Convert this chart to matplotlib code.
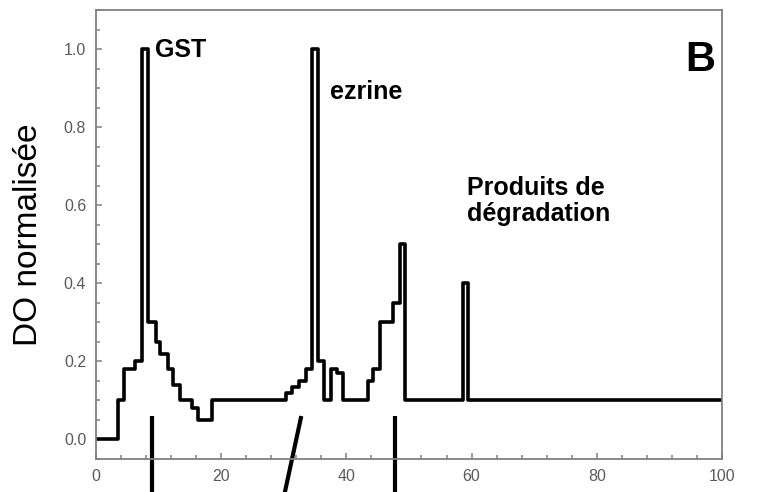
import matplotlib
matplotlib.use('Agg')
import matplotlib.pyplot as plt
from matplotlib.ticker import MultipleLocator

plt.rcParams['font.family'] = ['Liberation Sans', 'DejaVu Sans']

# profil d'élution : début de chaque palier (fraction) et DO normalisée du palier
fractions = [0, 3.5, 4.4, 6.2, 7.4, 8.3, 9.6, 10.2, 11.5, 12.3, 13.4, 15.3, 16.3, 18.6,
             30.4, 31.3, 32.5, 33.6, 34.5, 35.4, 36.5, 37.6, 38.5, 39.5,
             43.4, 44.3, 45.4, 47.5, 48.5, 49.3, 58.7, 59.4, 100]
do_norm = [0.0, 0.1, 0.18, 0.2, 1.0, 0.3, 0.25, 0.22, 0.18, 0.14, 0.1, 0.08, 0.05, 0.1,
           0.12, 0.135, 0.15, 0.18, 1.0, 0.2, 0.1, 0.18, 0.17, 0.1,
           0.15, 0.18, 0.3, 0.35, 0.5, 0.1, 0.4, 0.1, 0.1]

# repères sous l'axe des abscisses
marks_top = [(9, 9), (32.8, 29.3), (47.8, 47.8)]

fig = plt.figure(figsize=(7.58, 4.92), dpi=100)
ax = fig.add_axes([0.1266, 0.0671, 0.8259, 0.9126])

ax.step(fractions, do_norm, where='post', color='black', lw=2.6,
        solid_joinstyle='round')

for x_top, x_bottom in marks_top:
    ax.plot([x_top, x_bottom], [0.06, -0.2], color='black', lw=3, clip_on=False,
            solid_capstyle='butt')

ax.set_xlim(0, 100)
ax.set_ylim(-0.05, 1.1)
ax.xaxis.set_major_locator(MultipleLocator(20))
ax.xaxis.set_minor_locator(MultipleLocator(4))
ax.yaxis.set_major_locator(MultipleLocator(0.2))
ax.yaxis.set_minor_locator(MultipleLocator(0.05))
ax.yaxis.set_major_formatter(matplotlib.ticker.FormatStrFormatter('%.1f'))

ax.tick_params(which='both', direction='in', color='#808080', width=1.1,
               top=False, right=False, labelcolor='#5a5a5a', labelsize=11.5)
ax.tick_params(which='major', length=4)
ax.tick_params(which='minor', length=3)
ax.tick_params(axis='x', pad=7)
ax.tick_params(axis='y', pad=7)
for s in ax.spines.values():
    s.set_color('#808080')
    s.set_linewidth(1.3)

ax.set_ylabel('DO normalisée', fontsize=24, labelpad=14)

ax.text(9.4, 0.98, 'GST', fontsize=18, fontweight='bold', va='baseline')
ax.text(37.4, 0.872, 'ezrine', fontsize=18, fontweight='bold', va='baseline')
ax.text(59.2, 0.559, 'Produits de\ndégradation', fontsize=18, fontweight='bold',
        va='baseline', linespacing=1.1)
ax.text(94.1, 0.944, 'B', fontsize=30, fontweight='bold', va='baseline')

fig.savefig('out.png', dpi=100)
